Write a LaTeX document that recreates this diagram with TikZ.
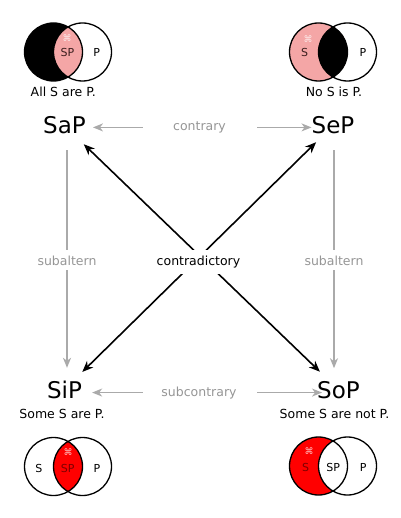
\documentclass[tikz,border=0pt]{standalone}
\usepackage{fontspec}
\setmainfont{DejaVu Sans}
\usepackage{tikz}
\usetikzlibrary{arrows.meta}

\definecolor{vennpink}{RGB}{244,166,166}
\definecolor{vennred}{RGB}{255,0,0}
\definecolor{relgray}{RGB}{170,170,170}
\definecolor{labgray}{RGB}{150,150,150}
\definecolor{onpink}{RGB}{60,30,30}
\definecolor{onred}{RGB}{125,0,0}

\begin{document}
\begin{tikzpicture}[x=1pt,y=1pt,yscale=-1,xscale=1,
    form/.style={anchor=base,inner sep=0pt,font=\fontsize{23}{27}\selectfont},
    caption/.style={anchor=base,inner sep=0pt,font=\fontsize{12.5}{15}\selectfont},
    rel/.style={anchor=base,inner sep=0pt,fill=white,text=labgray,font=\fontsize{12.5}{15}\selectfont},
    contra/.style={anchor=base,inner sep=0pt,fill=white,font=\fontsize{12.5}{15}\selectfont},
    region/.style={anchor=base,inner sep=0pt,font=\fontsize{11}{13}\selectfont},
    vennmark/.style={inner sep=0pt,text=white,opacity=0.75,font=\fontsize{9}{10}\selectfont},
    venn/.style={draw=black,line width=1.3pt},
    grayline/.style={draw=relgray,line width=1.4pt},
    grayarrow/.style={draw=relgray,line width=1.4pt,-{Stealth[length=10pt,width=8pt,inset=3pt]}},
    blackarrow/.style={draw=black,line width=1.6pt,{Stealth[length=11pt,width=9pt,inset=3.5pt]}-{Stealth[length=11pt,width=9pt,inset=3.5pt]}}]
        \useasboundingbox (0,0) rectangle (400,518);
        %Shape: Venn [All S are P]
        \fill[black] (53.5,52) circle (29);
        \begin{scope}
            \clip (53.5,52) circle (29);
            \fill[vennpink] (82.5,52) circle (29);
        \end{scope}
        \draw[venn] (53.5,52) circle (29);
        \draw[venn] (82.5,52) circle (29);
        \node[vennmark] (amark) at (67,38) {⌘};
        \node[region,text=onpink] (asp) at (67.5,56.5) {SP};
        \node[region] (ap) at (96.7,56.5) {P};
        %Shape: Venn [No S is P]
        \fill[vennpink] (318.5,52) circle (29);
        \begin{scope}
            \clip (318.5,52) circle (29);
            \fill[black] (347.5,52) circle (29);
        \end{scope}
        \draw[venn] (318.5,52) circle (29);
        \draw[venn] (347.5,52) circle (29);
        \node[vennmark] (emark) at (308,39) {⌘};
        \node[region,text=onpink] (es) at (304.7,57) {S};
        \node[region] (ep) at (363,57) {P};
        %Shape: Venn [Some S are P]
        \begin{scope}
            \clip (53.5,466.5) circle (29);
            \fill[vennred] (82.5,466.5) circle (29);
        \end{scope}
        \draw[venn] (53.5,466.5) circle (29);
        \draw[venn] (82.5,466.5) circle (29);
        \node[vennmark] (imark) at (68,452) {⌘};
        \node[region] (is) at (38.8,472) {S};
        \node[region,text=onred] (isp) at (67.8,472) {SP};
        \node[region] (ip) at (97,472) {P};
        %Shape: Venn [Some S are not P]
        \fill[vennred] (318.5,466) circle (29);
        \fill[white] (347.5,466) circle (29);
        \draw[venn] (318.5,466) circle (29);
        \draw[venn] (347.5,466) circle (29);
        \node[vennmark] (omark) at (309,451) {⌘};
        \node[region,text=onred] (os) at (305.5,471.5) {S};
        \node[region] (osp) at (333.3,471.5) {SP};
        \node[region] (op) at (363.3,471.5) {P};
        % Text Node
        \node[caption] (acap) at (63.3,96.5) {All S are P.};
        \node[caption] (ecap) at (334,96.5) {No S is P.};
        \node[caption] (icap) at (62,418) {Some S are P.};
        \node[caption] (ocap) at (334.5,418) {Some S are not P.};
        % Text Node
        \node[form] (sap) at (64.5,134) {SaP};
        \node[form] (sep) at (333,134) {SeP};
        \node[form] (sip) at (64.5,398) {SiP};
        \node[form] (sop) at (338.5,398) {SoP};
        % Text Node
        \node[rel] (contrary) at (199.5,130.5) {contrary};
        \node[rel] (subcontrary) at (199,396) {subcontrary};
        \node[rel] (subaltl) at (67,265) {subaltern};
        \node[rel] (subaltr) at (334,265) {subaltern};
        %Straight Lines [contrary]
        \draw[grayarrow,shorten <=30pt,shorten >=7pt] (contrary.west) -- (contrary.west -| sap.east);
        \draw[grayarrow,shorten <=31pt,shorten >=0pt] (contrary.east) -- (contrary.east -| sep.west);
        %Straight Lines [subcontrary]
        \draw[grayarrow,shorten <=18.5pt,shorten >=10pt] (subcontrary.west) -- (subcontrary.west -| sip.east);
        \draw[grayarrow,shorten <=20.5pt,shorten >=-5pt] (subcontrary.east) -- (subcontrary.east -| sop.west);
        %Straight Lines [subaltern]
        \draw[grayline,shorten <=15.7pt,shorten >=5.5pt] (subaltl.north |- sap.south) -- (subaltl.north);
        \draw[grayarrow,shorten <=5pt,shorten >=12.5pt] (subaltl.south) -- (subaltl.south |- sip.north);
        \draw[grayline,shorten <=15.7pt,shorten >=5.5pt] (subaltr.north |- sep.south) -- (subaltr.north);
        \draw[grayarrow,shorten <=5pt,shorten >=12.5pt] (subaltr.south) -- (subaltr.south |- sop.north);
        %Straight Lines [contradictory]
        \draw[blackarrow,shorten <=14pt,shorten >=13pt] (sap) -- (sop);
        \draw[blackarrow,shorten <=11pt,shorten >=12pt] (sep) -- (sip);
        % Text Node
        \node[contra,inner xsep=2pt,inner ysep=6pt] (contradictory) at (198.5,265) {contradictory};
\end{tikzpicture}
\end{document}
